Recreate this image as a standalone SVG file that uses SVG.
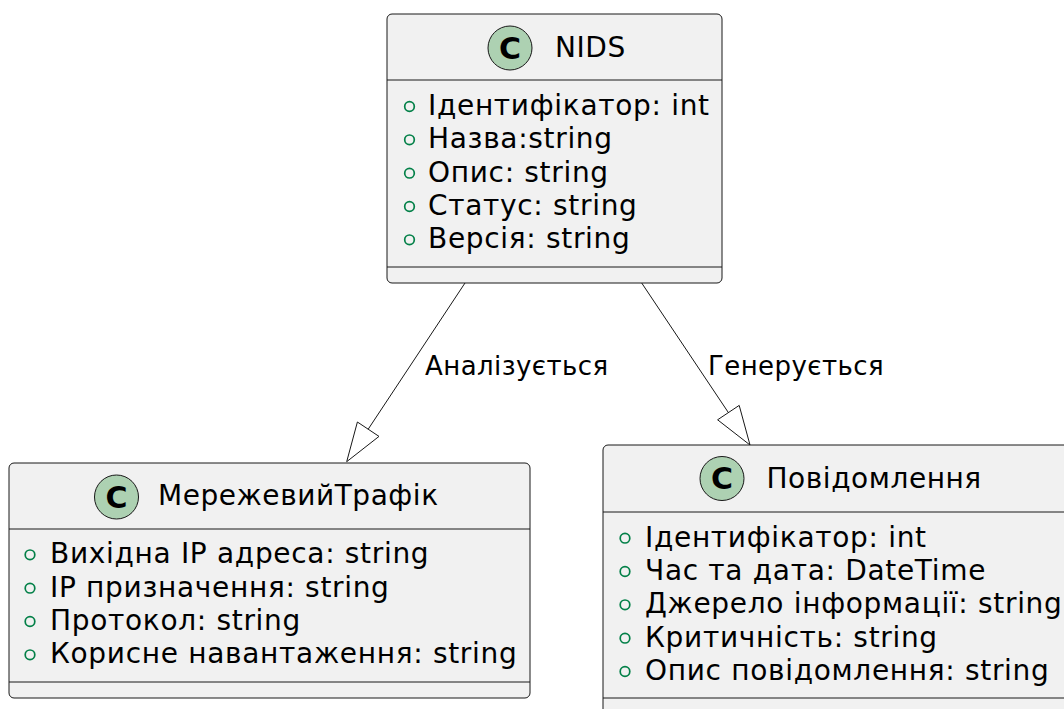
<svg xmlns="http://www.w3.org/2000/svg" width="1064" height="709" viewBox="0 0 1064 709">
  <style>
    .box { fill: #F1F1F1; stroke: #181818; stroke-width: 1; }
    .sep { stroke: #181818; stroke-width: 1; }
    .badge { fill: #ADD1B2; stroke: #181818; stroke-width: 1; }
    .badge-letter { font-family: "DejaVu Sans", sans-serif; font-weight: bold; font-size: 30px; fill: #000; text-anchor: middle; }
    .title { font-family: "DejaVu Sans", sans-serif; font-size: 28px; letter-spacing: 0.55px; fill: #000; }
    .attr { font-family: "DejaVu Sans", sans-serif; font-size: 28px; letter-spacing: 0.68px; fill: #000; }
    .vis { fill: none; stroke: #038048; stroke-width: 1.7; }
    .edge { stroke: #181818; stroke-width: 1; fill: none; }
    .head { stroke: #181818; stroke-width: 1; fill: none; }
    .label { font-family: "DejaVu Sans", sans-serif; font-size: 26px; letter-spacing: 0.42px; fill: #000; }
  </style>
  <rect width="1064" height="709" fill="#FFFFFF"/>

  <!-- connectors -->
  <g id="connectors">
    <g id="edge-nids-traffic">
      <line class="edge" x1="465" y1="283" x2="368.2" y2="429.2"/>
      <polygon class="head" points="346.7,461.7 357.4,422 379,436.4"/>
      <text class="label" x="425" y="375">Аналізується</text>
    </g>
    <g id="edge-nids-message">
      <line class="edge" x1="641.7" y1="283" x2="728.4" y2="412.6"/>
      <polygon class="head" points="750,445 739.2,405.4 717.6,419.8"/>
      <text class="label" x="708" y="375">Генерується</text>
    </g>
  </g>

  <!-- class NIDS -->
  <g id="nids">
    <rect class="box" x="387" y="14" width="335" height="269" rx="5" ry="5"/>
    <circle class="badge" cx="510" cy="48" r="22"/>
    <text class="badge-letter" x="510" y="58.5">C</text>
    <text class="title" x="555" y="57">NIDS</text>
    <line class="sep" x1="387" y1="80" x2="722" y2="80"/>
    <circle class="vis" cx="409.5" cy="106.5" r="4.8"/>
    <text class="attr" x="428" y="115">Ідентифікатор: int</text>
    <circle class="vis" cx="409.5" cy="139.8" r="4.8"/>
    <text class="attr" x="428" y="148.3">Назва:string</text>
    <circle class="vis" cx="409.5" cy="173.2" r="4.8"/>
    <text class="attr" x="428" y="181.7">Опис: string</text>
    <circle class="vis" cx="409.5" cy="206.5" r="4.8"/>
    <text class="attr" x="428" y="215">Статус: string</text>
    <circle class="vis" cx="409.5" cy="239.8" r="4.8"/>
    <text class="attr" x="428" y="248.3">Версія: string</text>
    <line class="sep" x1="387" y1="267" x2="722" y2="267"/>
  </g>

  <!-- class МережевийТрафік -->
  <g id="network-traffic">
    <rect class="box" x="9" y="463" width="521" height="235" rx="5" ry="5"/>
    <circle class="badge" cx="116.5" cy="497" r="22"/>
    <text class="badge-letter" x="116.5" y="507.5">C</text>
    <text class="title" x="158" y="505">МережевийТрафік</text>
    <line class="sep" x1="9" y1="529" x2="530" y2="529"/>
    <circle class="vis" cx="30" cy="554.8" r="4.8"/>
    <text class="attr" x="50" y="563.3">Вихідна IP адреса: string</text>
    <circle class="vis" cx="30" cy="588.2" r="4.8"/>
    <text class="attr" x="50" y="596.7">IP призначення: string</text>
    <circle class="vis" cx="30" cy="621.5" r="4.8"/>
    <text class="attr" x="50" y="630">Протокол: string</text>
    <circle class="vis" cx="30" cy="654.8" r="4.8"/>
    <text class="attr" x="50" y="663.3">Корисне навантаження: string</text>
    <line class="sep" x1="9" y1="682" x2="530" y2="682"/>
  </g>

  <!-- class Повідомлення -->
  <g id="message">
    <rect class="box" x="603" y="445" width="480" height="280" rx="5" ry="5"/>
    <circle class="badge" cx="722" cy="478.5" r="22"/>
    <text class="badge-letter" x="722" y="489">C</text>
    <text class="title" x="766.5" y="488">Повідомлення</text>
    <line class="sep" x1="603" y1="512" x2="1083" y2="512"/>
    <circle class="vis" cx="625" cy="538.2" r="4.8"/>
    <text class="attr" x="645" y="546.7">Ідентифікатор: int</text>
    <circle class="vis" cx="625" cy="571.5" r="4.8"/>
    <text class="attr" x="645" y="580">Час та дата: DateTime</text>
    <circle class="vis" cx="625" cy="604.8" r="4.8"/>
    <text class="attr" x="645" y="613.3">Джерело інформації: string</text>
    <circle class="vis" cx="625" cy="638.2" r="4.8"/>
    <text class="attr" x="645" y="646.7">Критичність: string</text>
    <circle class="vis" cx="625" cy="671.5" r="4.8"/>
    <text class="attr" x="645" y="680">Опис повідомлення: string</text>
    <line class="sep" x1="603" y1="698" x2="1083" y2="698"/>
  </g>
</svg>
